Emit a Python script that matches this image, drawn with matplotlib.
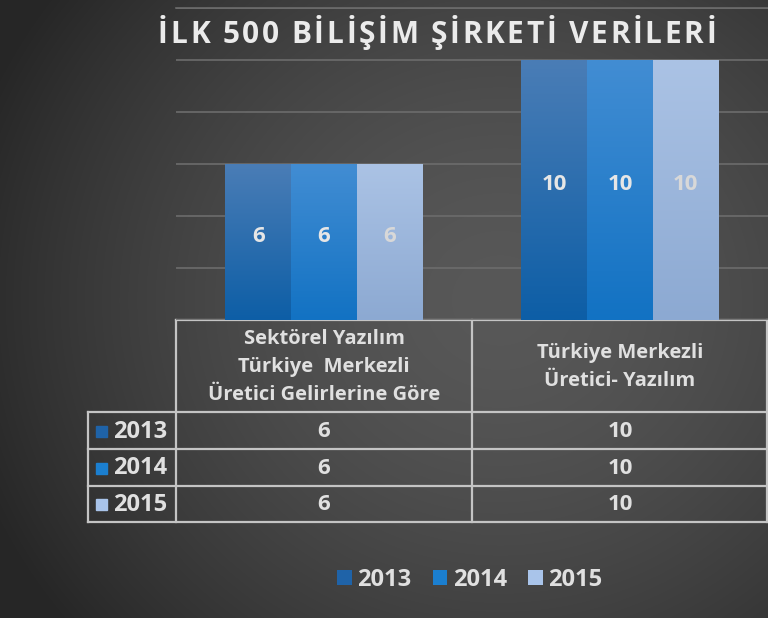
import matplotlib
matplotlib.use("Agg")
import matplotlib.pyplot as plt
import numpy as np
from matplotlib.colors import LinearSegmentedColormap
from matplotlib.patches import Rectangle

# data
categories = ["Sektörel Yazılım\nTürkiye  Merkezli\nÜretici Gelirlerine Göre",
              "Türkiye Merkezli\nÜretici- Yazılım"]
years = ["2013", "2014", "2015"]
values = {
    "2013": [6, 10],
    "2014": [6, 10],
    "2015": [6, 10],
}
yticks = [0, 2, 4, 6, 8, 10, 12]
title = "İLK 500 BİLİŞİM ŞİRKETİ VERİLERİ"

# style
flat_colors = {"2013": "#1f63a8", "2014": "#1b7fd0", "2015": "#a9c4ea"}
grad_colors = {  # (top, bottom)
    "2013": ("#4a7db6", "#0d5ea6"),
    "2014": ("#428dd3", "#1272c3"),
    "2015": ("#abc3e5", "#8ca9d2"),
}
label_colors = {"2013": "#e6e6e6", "2014": "#e6e6e6", "2015": "#d8d8d8"}
text_color = "#e0e0e0"
line_color = "#c4c4c4"
plt.rcParams["font.family"] = ["Open Sans", "DejaVu Sans"]
plt.rcParams["font.weight"] = "bold"

W, H = 768, 618
fig = plt.figure(figsize=(W / 100, H / 100), dpi=100)

# background: radial gradient, overlay axes in pixel coords
bg = fig.add_axes([0, 0, 1, 1], zorder=0)
bg.set_xlim(0, W)
bg.set_ylim(H, 0)
bg.axis("off")
yy, xx = np.mgrid[0:H, 0:W]
r = np.sqrt(((xx - 500) / 560.0) ** 2 + ((yy - 300) / 520.0) ** 2)
r = np.clip(r, 0, 1)
c_in = np.array([0x58, 0x58, 0x58]) / 255.0
c_out = np.array([0x26, 0x26, 0x26]) / 255.0
img = c_in[None, None, :] * (1 - r[..., None] ** 1.6) + c_out[None, None, :] * (r[..., None] ** 1.6)
bg.imshow(img, extent=[0, W, H, 0], aspect="auto", zorder=0)

# title with letter spacing: place chars one by one so it spans x 158..716
renderer = fig.canvas.get_renderer()
chars = []
for ch in title:
    t = bg.text(0, 35, ch, ha="left", va="center", fontsize=21.5, color="#ebebeb",
                fontweight="bold", zorder=5)
    w = 7.0 if ch == " " else t.get_window_extent(renderer).width
    chars.append((t, w))
t_left, t_right = 158, 716
spacing = (t_right - t_left - sum(w for _, w in chars)) / (len(chars) - 1)
tx = t_left
for t, w in chars:
    t.set_x(tx)
    tx += w + spacing

# chart axes
x0, x1, y0, y1 = 176, 768, 8, 320
ax = fig.add_axes([x0 / W, 1 - y1 / H, (x1 - x0) / W, (y1 - y0) / H], zorder=2)
ax.patch.set_alpha(0)
ax.set_xlim(-0.5, 1.5)
ax.set_ylim(0, 12)
ax.set_yticks(yticks)
ax.yaxis.grid(True, color="#6c6c6c", linewidth=1.2)
ax.axhline(yticks[-1], color="#6c6c6c", linewidth=1.2, clip_on=False, zorder=0)
ax.set_axisbelow(True)
ax.tick_params(left=False, bottom=False, labelleft=False, labelbottom=False)
for s in ax.spines.values():
    s.set_visible(False)

bw = 0.222
xs = np.arange(len(categories))
for i, yr in enumerate(years):
    pos = xs + (i - 1) * bw
    bars = ax.bar(pos, values[yr], width=bw, color=flat_colors[yr], label=yr, zorder=2)
    cmap = LinearSegmentedColormap.from_list(yr, [grad_colors[yr][1], grad_colors[yr][0]])
    for b, v in zip(bars, values[yr]):
        bx, by = b.get_x(), b.get_y()
        grad = np.linspace(0, 1, 256).reshape(-1, 1)
        im = ax.imshow(grad, extent=[bx, bx + b.get_width(), by, by + b.get_height()],
                       origin="lower", cmap=cmap, aspect="auto", zorder=3)
        im.set_clip_path(b)
        ax.text(bx + b.get_width() / 2, v / 2 + 0.2, str(v), ha="center", va="center",
                fontsize=16, color=label_colors[yr], fontweight="bold", zorder=4)
ax.set_xlim(-0.5, 1.5)
ax.set_ylim(0, 12)

# data table drawn in pixel coords
col_x = [88, 176, 472, 768]
row_y = [320, 412, 449, 486, 522]
lw = 1.6
bg.plot([176, 767], [320, 320], color=line_color, lw=lw, zorder=3)
for ry in row_y[1:]:
    bg.plot([88, 767], [ry, ry], color=line_color, lw=lw, zorder=3)
bg.plot([88, 88], [412, 522], color=line_color, lw=lw, zorder=3)
for cx in col_x[1:]:
    cx = min(cx, 767)
    bg.plot([cx, cx], [320, 522], color=line_color, lw=lw, zorder=3)

for j, cat in enumerate(categories):
    cx = (col_x[j + 1] + col_x[j + 2]) / 2
    bg.text(cx, 367, cat, ha="center", va="center", fontsize=14.5, color=text_color,
            linespacing=1.5, fontweight="bold", zorder=5)
for i, yr in enumerate(years):
    cy = (row_y[i + 1] + row_y[i + 2]) / 2
    bg.add_patch(Rectangle((96, cy - 5), 11, 11, color=flat_colors[yr], zorder=4))
    bg.text(113, cy + 1, yr, ha="left", va="center", fontsize=17, color=text_color,
            fontweight="bold", zorder=5)
    for j in range(len(categories)):
        cx = (col_x[j + 1] + col_x[j + 2]) / 2
        bg.text(cx, cy + 1, str(values[yr][j]), ha="center", va="center", fontsize=16,
                color=text_color, fontweight="bold", zorder=5)

# legend
handles, labels = ax.get_legend_handles_labels()
leg = fig.legend(handles, labels, loc="center", bbox_to_anchor=(470 / W, 1 - 580 / H),
                 ncol=3, frameon=False, fontsize=17, handlelength=0.6, handleheight=0.6,
                 handletextpad=0.25, columnspacing=0.9)
for t in leg.get_texts():
    t.set_color(text_color)
    t.set_fontweight("bold")

fig.savefig("out.png", dpi=100)
